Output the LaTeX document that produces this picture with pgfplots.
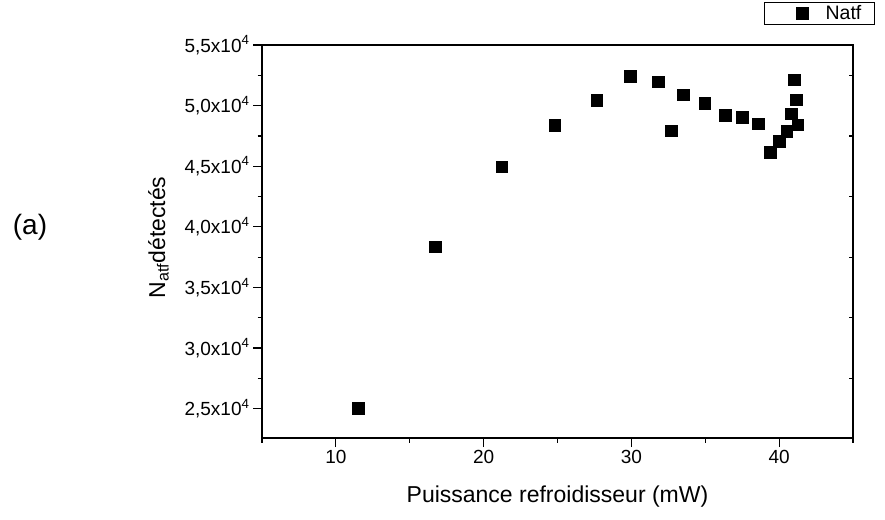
\documentclass[border=0pt]{standalone}
\usepackage{fontspec}
\setmainfont{Liberation Sans}
\usepackage{pgfplots}
\pgfplotsset{compat=1.18}
\begin{document}
\begin{tikzpicture}
\useasboundingbox (0bp,0bp) rectangle (885bp,520bp);
\node[font=\fontsize{28bp}{32bp}\selectfont] at (30bp,293bp) {(a)};
\begin{axis}[at={(262bp,82bp)}, anchor=south west, scale only axis,
  width=591bp, height=393bp,
  xmin=5, xmax=45, ymin=22580, ymax=55000,
  xtick={10,20,30,40}, minor xtick={5,15,25,35,45},
  ytick={25000,30000,35000,40000,45000,50000,55000},
  minor ytick={27500,32500,37500,42500,47500,52500},
  yticklabels={{2,5x10\textsuperscript{4}},{3,0x10\textsuperscript{4}},{3,5x10\textsuperscript{4}},{4,0x10\textsuperscript{4}},{4,5x10\textsuperscript{4}},{5,0x10\textsuperscript{4}},{5,5x10\textsuperscript{4}}},
  scaled y ticks=false,
  /pgf/number format/assume math mode=true,
  xtick pos=bottom, ytick pos=left, tick align=outside,
  major tick length=9bp, minor tick length=4.5bp,
  every tick/.style={black, line width=1.2bp},
  axis line style={line width=1.2bp},
  ticklabel style={font=\fontsize{19bp}{22bp}\selectfont},
  xlabel={Puissance refroidisseur (mW)},
  ylabel={N\textsubscript{atf}détectés},
  xlabel style={at={(axis description cs:0.5,-0.150)}, anchor=center, font=\fontsize{23bp}{27bp}\selectfont},
  ylabel style={at={(axis description cs:-0.1641,0.51)}, anchor=base, font=\fontsize{23bp}{27bp}\selectfont},
  legend style={at={(axis description cs:1.0372,1.1094)}, anchor=north east, draw=black, line width=0.8bp,
    inner xsep=0pt, inner ysep=3bp,
    nodes={font=\fontsize{19.5bp}{22bp}\selectfont, inner sep=0pt}},
  legend image code/.code={\path (0bp,0bp) (60bp,0bp); \draw[#1] plot coordinates {(37bp,0bp)};},
  legend cell align=left,
]
\addplot[only marks, mark=square*, mark size=5.8bp, mark options={fill=black, draw=black, line width=0.1bp}] coordinates {
(11.50, 25030)
(16.73, 38380)
(21.20, 44970)
(24.81, 48410)
(27.65, 50440)
(29.93, 52415)
(31.82, 52000)
(32.68, 47940)
(33.49, 50907)
(34.94, 50220)
(36.34, 49200)
(37.51, 49040)
(38.57, 48520)
(39.40, 46150)
(40.01, 47090)
(40.49, 47880)
(40.80, 49340)
(41.03, 52140)
(41.16, 50490)
(41.26, 48430)
};
\addlegendentry{\makebox[49bp][l]{Natf}}
\end{axis}
\begin{axis}[at={(262bp,82bp)}, anchor=south west, scale only axis,
  width=591bp, height=393bp,
  xmin=5, xmax=45, ymin=22580, ymax=55000,
  scaled y ticks=false,
  hide x axis, axis y line*=right,
  ytick={27500,32500,37500,42500,47500,52500}, yticklabels={},
  tick align=inside, major tick length=4bp,
  every tick/.style={black, line width=1.2bp},
  axis line style={line width=1.2bp},
]
\addplot[draw=none] coordinates {(5,30000)};
\end{axis}
\end{tikzpicture}
\end{document}
